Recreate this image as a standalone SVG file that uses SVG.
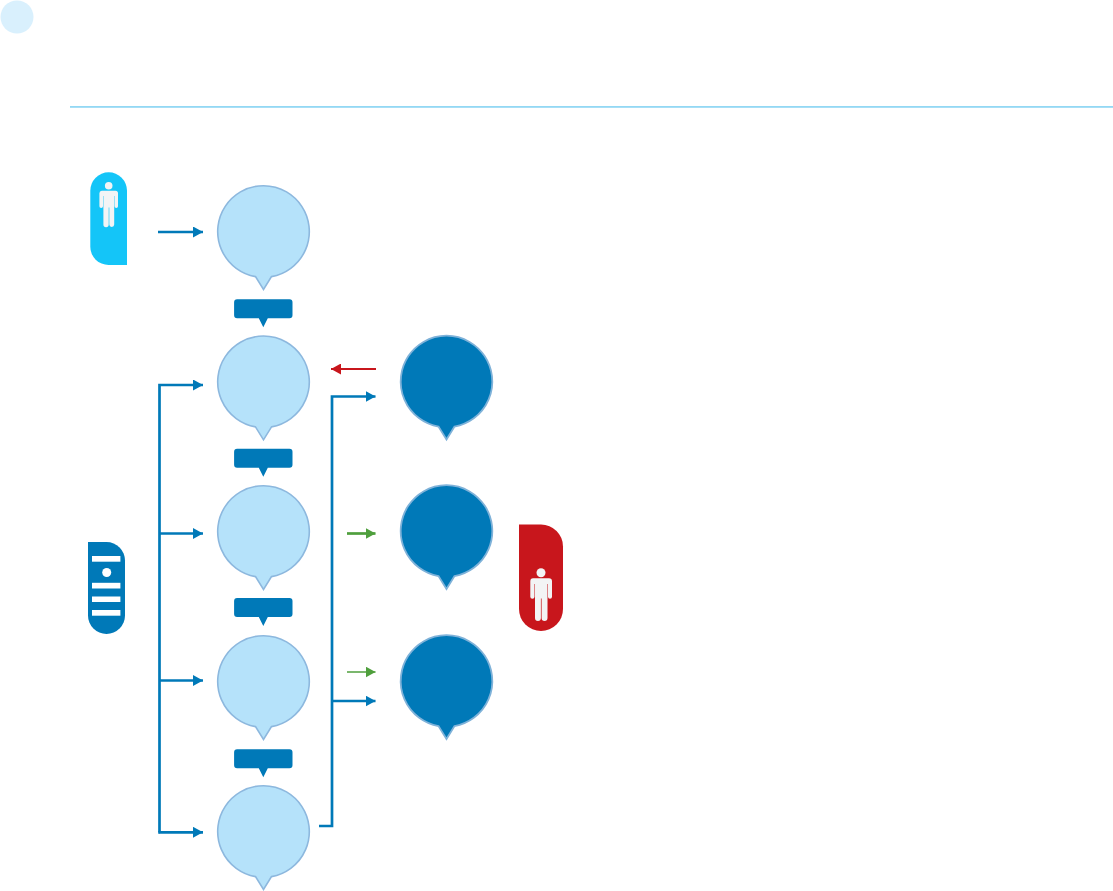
<svg xmlns="http://www.w3.org/2000/svg" width="1113" height="891" viewBox="0 0 1113 891">
<style>
.light{fill:#b5e2fa;stroke:#8db8de;stroke-width:1.6;stroke-linejoin:miter}
.dark{fill:#0079b8;stroke:#7fb2d9;stroke-width:1.8;stroke-linejoin:miter}
.tag{fill:#0079b8}
.icon{fill:#f3f4f5}
.w{fill:#fff}
.blue{fill:none;stroke:#0079b8;stroke-width:2.7;marker-end:url(#ab)}
.plain{fill:none;stroke:#0079b8;stroke-width:2.7}
.red{fill:none;stroke:#c8161c;stroke-width:2;marker-end:url(#ar)}
.green{fill:none;stroke:#4f9f3d;stroke-width:2.7;marker-end:url(#ag)}
</style>
<defs>
<marker id="ab" markerUnits="userSpaceOnUse" markerWidth="10" markerHeight="11" refX="10" refY="5.5" orient="auto"><path d="M0 0L10 5.5L0 11Z" fill="#0079b8"/></marker>
<marker id="ar" markerUnits="userSpaceOnUse" markerWidth="10" markerHeight="11" refX="10" refY="5.5" orient="auto"><path d="M0 0L10 5.5L0 11Z" fill="#c8161c"/></marker>
<marker id="ag" markerUnits="userSpaceOnUse" markerWidth="10" markerHeight="11" refX="10" refY="5.5" orient="auto"><path d="M0 0L10 5.5L0 11Z" fill="#4f9f3d"/></marker>
<path id="bub" d="M-8 45.1A45.8 45.8 0 1 1 8 45.1L0 58Z"/>
<path id="tagshape" d="M-26.2 0H26.2A3 3 0 0 1 29.2 3V16A3 3 0 0 1 26.2 19H4.500L0 28L-4.500 19H-26.2A3 3 0 0 1 -29.2 16V3A3 3 0 0 1 -26.2 0Z"/>
</defs>

<circle id="badge" cx="17" cy="17" r="16.500" fill="#d9f0fd"/>
<rect id="rule" x="70" y="106" width="1043" height="1.800" fill="#93d8f4"/>

<g id="connectors">
<path class="blue" d="M158 232H203"/>
<path class="blue" d="M159.500 832.300V385H203"/>
<path class="blue" d="M159.500 533.500H203"/>
<path class="blue" d="M159.500 680.500H203"/>
<path class="blue" d="M159.500 832.300H203"/>
<path class="plain" d="M158.200 832.300H160"/>
<path class="red" d="M376 369H331"/>
<path class="blue" d="M319 826H332V396.500H375.500"/>
<path class="blue" d="M332 701H375.500"/>
<path class="green" d="M347 533.500H375.500"/>
<path class="green" style="stroke-width:1.5" d="M347 672H375.500"/>
</g>

<g id="actor-user">
<path d="M90.300 190.700A18.350 18.350 0 0 1 127 190.700V265H108.650A18.350 18.350 0 0 1 90.300 246.650Z" fill="#14c5f8"/>
<circle class="icon" cx="108.700" cy="185.800" r="3.800"/>
<path class="icon" d="M102 190.700H115.500A2.500 2.500 0 0 1 118 193.200V206.200A1.700 1.700 0 0 1 114.600 206.200V196H114.200V224.500A1.600 1.600 0 0 1 109.300 224.500V207.500H108.700V224.500A1.600 1.600 0 0 1 103.400 224.500V196H103V206.200A1.700 1.700 0 0 1 99.400 206.200V193.200A2.500 2.500 0 0 1 102 190.700Z"/>
</g>

<g id="server">
<path d="M88 542H106.500A18.500 18.500 0 0 1 125 560.500V615.500A18.500 18.500 0 0 1 88 615.500Z" fill="#0079b8"/>
<rect class="w" x="92" y="556" width="28.400" height="5.700"/>
<circle class="w" cx="106.700" cy="572.500" r="4.500"/>
<rect class="w" x="92" y="582.800" width="28.400" height="5.700"/>
<rect class="w" x="92" y="596.500" width="28.400" height="5.500"/>
<rect class="w" x="92" y="610" width="28.400" height="5.700"/>
</g>

<g id="actor-red">
<path d="M519 524.500H541A22 22 0 0 1 563 546.500V609A22 22 0 0 1 519 609Z" fill="#c8161c"/>
<circle class="icon" cx="541" cy="572.700" r="4.500"/>
<path class="icon" d="M533.500 578.300H549A3 3 0 0 1 552 581.300V596.700A1.900 1.900 0 0 1 548 596.700V584H547.500V618A2.500 2.500 0 0 1 541.600 618V598.500H540.900V618A2.500 2.500 0 0 1 535 618V584H534.500V596.700A1.900 1.900 0 0 1 530.300 596.700V581.300A3 3 0 0 1 533.500 578.300Z"/>
</g>

<g id="node-1"><use href="#bub" class="light" x="263.500" y="231.500"/></g>
<g id="tag-1"><use href="#tagshape" class="tag" x="263.300" y="299.300"/></g>
<g id="node-2"><use href="#bub" class="light" x="263.500" y="381.800"/></g>
<g id="tag-2"><use href="#tagshape" class="tag" x="263.300" y="448.800"/></g>
<g id="node-3"><use href="#bub" class="light" x="263.500" y="531.500"/></g>
<g id="tag-3"><use href="#tagshape" class="tag" x="263.300" y="598"/></g>
<g id="node-4"><use href="#bub" class="light" x="263.500" y="681.500"/></g>
<g id="tag-4"><use href="#tagshape" class="tag" x="263.300" y="749.300"/></g>
<g id="node-5"><use href="#bub" class="light" x="263.500" y="831.500"/></g>
<g id="node-6"><use href="#bub" class="dark" x="446.500" y="381.500"/></g>
<g id="node-7"><use href="#bub" class="dark" x="446.500" y="531"/></g>
<g id="node-8"><use href="#bub" class="dark" x="446.500" y="681"/></g>
</svg>
